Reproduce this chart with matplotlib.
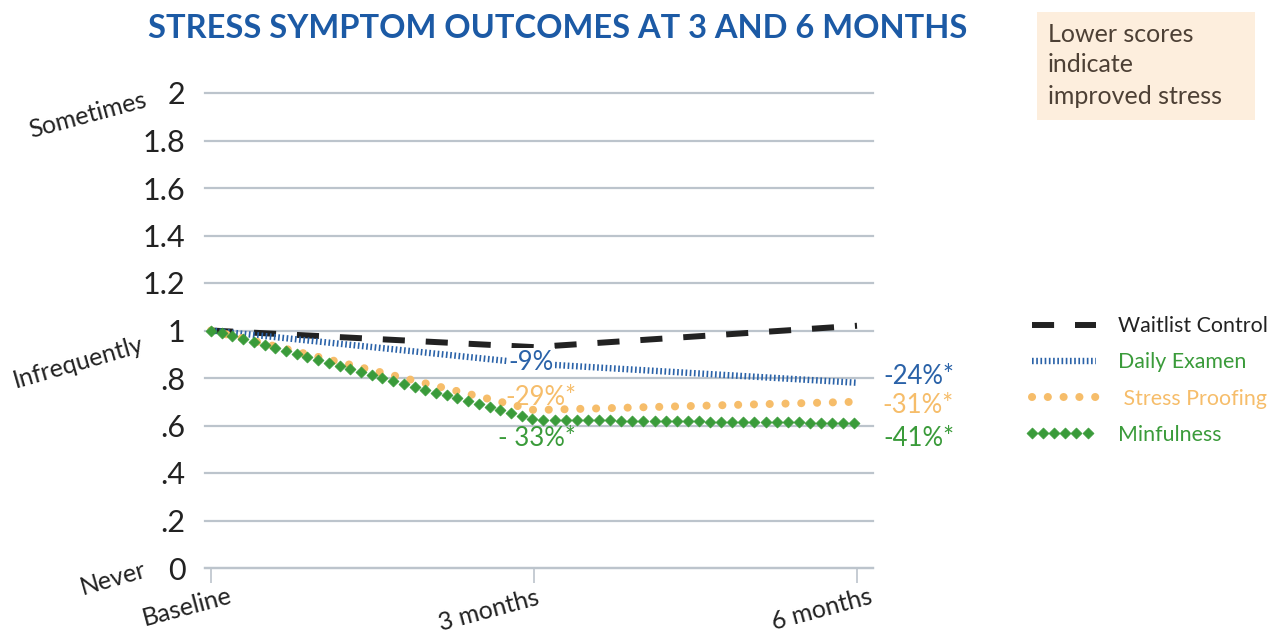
import numpy as np
import matplotlib
matplotlib.use("Agg")
import matplotlib.pyplot as plt
from matplotlib.patheffects import AbstractPathEffect
from matplotlib.markers import MarkerStyle
from matplotlib.transforms import Affine2D, IdentityTransform
from matplotlib.path import Path
from matplotlib.patches import Rectangle
from matplotlib.colors import to_rgba

plt.rcParams['font.family'] = ['Lato', 'DejaVu Sans']

# ---------------- data ----------------
categories = ['Baseline', '3 months', '6 months']
waitlist = [1.0, 0.93, 1.02]
examen = [1.0, 0.86, 0.78]
proofing = [1.0, 0.665, 0.70]
minfulness = [1.0, 0.625, 0.61]
series_names = ['Waitlist Control', 'Daily Examen', ' Stress Proofing', 'Minfulness']
ytick_vals = [0, 0.2, 0.4, 0.6, 0.8, 1.0, 1.2, 1.4, 1.6, 1.8, 2.0]
ytick_labels = ['0', '.2', '.4', '.6', '.8', '1', '1.2', '1.4', '1.6', '1.8', '2']
mid_labels = ['-9%', '-29%*', '- 33%*']
end_labels = ['-24%*', '-31%*', '-41%*']

BLUE = '#2a62a8'
ORANGE = '#f6bd6a'
GREEN = '#3a9b3a'
BLACK = '#222222'
GRID = '#bcc4cc'
TITLE = '#1c5aa5'


class MarkerTrail(AbstractPathEffect):
    """Draw evenly spaced markers along the rendered path instead of a stroke."""
    def __init__(self, marker='D', size=5.5, spacing=8.0, color='g'):
        super().__init__()
        self.marker = marker
        self.size = size
        self.spacing = spacing
        self.color = color

    def draw_path(self, renderer, gc, tpath, affine, rgbFace=None):
        verts = affine.transform(tpath.vertices)
        if len(verts) < 2:
            return
        seg = np.hypot(np.diff(verts[:, 0]), np.diff(verts[:, 1]))
        cum = np.concatenate([[0], np.cumsum(seg)])
        step = renderer.points_to_pixels(self.spacing)
        d = np.arange(0, cum[-1] + 1e-6, step)
        px = np.interp(d, cum, verts[:, 0])
        py = np.interp(d, cum, verts[:, 1])
        ms = MarkerStyle(self.marker)
        mtrans = ms.get_transform() + Affine2D().scale(renderer.points_to_pixels(self.size))
        gc0 = renderer.new_gc()
        gc0.copy_properties(gc)
        gc0.set_linewidth(0.5)
        gc0.set_foreground(self.color)
        gc0.set_dashes(0, None)
        renderer.draw_markers(gc0, ms.get_path(), mtrans,
                              Path(np.column_stack([px, py])), IdentityTransform(),
                              to_rgba(self.color))
        gc0.restore()


W, H = 1269, 634
fig = plt.figure(figsize=(W / 100, H / 100), dpi=100)
ax = fig.add_axes([205 / W, 1 - 568 / H, (873 - 205) / W, (568 - 93) / H])

x = np.arange(len(categories))

l1, = ax.plot(x, waitlist, color=BLACK, lw=4.3, linestyle=(0, (3.7, 3.5)),
              dash_capstyle='butt', label=series_names[0], zorder=3)
l2, = ax.plot(x, examen, color=BLUE, lw=4.6, linestyle=(0, (0.26, 0.40)),
              dash_capstyle='butt', label=series_names[1], zorder=3)
l3, = ax.plot(x, proofing, color=ORANGE, lw=5.8, linestyle=(0, (0.01, 1.95)),
              dash_capstyle='round', label=series_names[2], zorder=3)
l4, = ax.plot(x, minfulness, color=GREEN, lw=1, label=series_names[3], zorder=4,
              path_effects=[MarkerTrail('D', size=5.6, spacing=8.0, color=GREEN)])

ax.set_xlim(-0.0186, 2.0495)
ax.set_ylim(0, 2)
ax.set_yticks(ytick_vals)
ax.set_yticklabels(ytick_labels)
ax.tick_params(axis='y', length=0, pad=14, labelsize=22, labelcolor=BLACK)
ax.set_xticks(x)
ax.set_xticklabels([''] * len(categories))
ax.tick_params(axis='x', length=11, width=1.2, color=GRID, direction='out')
ax.yaxis.grid(True, color=GRID, lw=1.6)
ax.set_axisbelow(True)
for gl in ax.get_ygridlines():
    gl.set_clip_on(False)
for s in ['top', 'right', 'left']:
    ax.spines[s].set_visible(False)
ax.spines['bottom'].set_color(GRID)
ax.spines['bottom'].set_linewidth(1.6)

# x category labels (rotated)
xoffs = [(-24, -39), (-45, -42), (-35, -41)]
for i, (lbl, (dx, dy)) in enumerate(zip(categories, xoffs)):
    ax.annotate(lbl, xy=(i, 0), xycoords=('data', 'axes fraction'),
                xytext=(dx / 1.389, dy / 1.389), textcoords='offset points',
                rotation=15, ha='center', va='center', fontsize=18, color=BLACK,
                annotation_clip=False)

# side labels
fig.text(88 / W, 1 - 115 / H, 'Sometimes', rotation=15, ha='center', va='center',
         fontsize=18, color=BLACK)
fig.text(78 / W, 1 - 362 / H, 'Infrequently', rotation=16, ha='center', va='center',
         fontsize=18, color=BLACK)
fig.text(113 / W, 1 - 578 / H, 'Never', rotation=16, ha='center', va='center',
         fontsize=18, color=BLACK)

# percentage annotations
ax.text(0.99, 0.867, mid_labels[0], color=BLUE, fontsize=18.5, ha='center', va='center',
        zorder=5, bbox=dict(boxstyle='square,pad=0.05', fc='white', ec='none'))
ax.text(1.02, 0.716, mid_labels[1], color=ORANGE, fontsize=18.5, ha='center', va='center', zorder=5)
ax.text(1.01, 0.547, mid_labels[2], color=GREEN, fontsize=18.5, ha='center', va='center', zorder=5)
end_cols = [BLUE, ORANGE, GREEN]
end_y = [0.808, 0.686, 0.547]
for lbl, c, yy in zip(end_labels, end_cols, end_y):
    ax.text(2.19, yy, lbl, color=c, fontsize=18.5, ha='center', va='center', clip_on=False)

# title
fig.text(558 / W, 1 - 29 / H, 'STRESS SYMPTOM OUTCOMES AT 3 AND 6 MONTHS', ha='center',
         va='center', fontsize=23.5, fontweight='bold', color=TITLE)

# note box
fig.add_artist(Rectangle((1037 / W, 1 - 120 / H), 218 / W, 108 / H,
                         transform=fig.transFigure, fc='#fdeedd', ec='none'))
for t, yy in zip(['Lower scores', 'indicate', 'improved stress'], [35, 65, 96]):
    fig.text(1048 / W, 1 - yy / H, t, ha='left', va='center', fontsize=18, color='#4d4035')

# legend
leg = fig.legend(handles=[l1, l2, l3, l4], loc='upper left',
                 bbox_to_anchor=(1032 / W, 1 - 316 / H), bbox_transform=fig.transFigure,
                 frameon=False, fontsize=15.4, handlelength=3.0, handletextpad=1.03,
                 labelspacing=0.76, borderpad=0, borderaxespad=0,
                 labelcolor=[BLACK, GREEN, ORANGE, GREEN])

fig.savefig('out.png', dpi=100)
